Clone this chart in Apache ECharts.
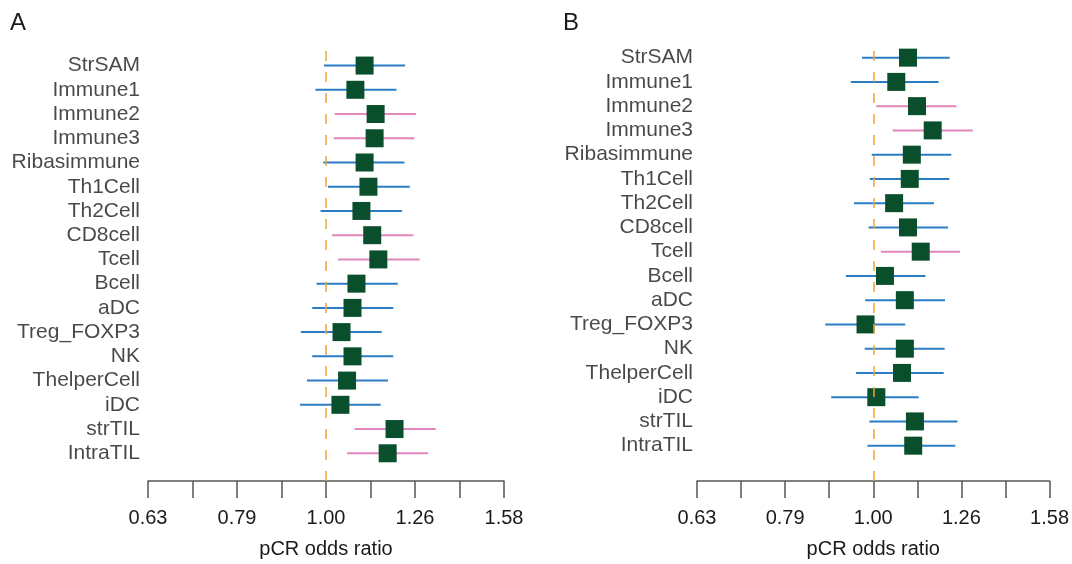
<!DOCTYPE html>
<html>
<head>
<meta charset="utf-8">
<script src="https://cdn.jsdelivr.net/npm/echarts@6/dist/echarts.min.js"></script>
<style>
  html, body { margin: 0; padding: 0; background: #fff; }
  #main { width: 1072px; height: 564px; }
</style>
</head>
<body>
<div id="main"></div>
<script>
// 行名称（两幅图相同）
const rows = ['StrSAM', 'Immune1', 'Immune2', 'Immune3', 'Ribasimmune', 'Th1Cell', 'Th2Cell',
  'CD8cell', 'Tcell', 'Bcell', 'aDC', 'Treg_FOXP3', 'NK', 'ThelperCell', 'iDC', 'strTIL', 'IntraTIL']

// A 图：OR 及 95% CI
const estA = [1.105, 1.079, 1.137, 1.134, 1.105, 1.116, 1.096, 1.127, 1.145, 1.082, 1.071, 1.041, 1.071, 1.056, 1.038, 1.194, 1.173]
const lowA = [0.995, 0.973, 1.023, 1.020, 0.993, 1.005, 0.986, 1.016, 1.032, 0.976, 0.965, 0.937, 0.965, 0.952, 0.935, 1.077, 1.056]
const upA = [1.227, 1.200, 1.262, 1.257, 1.225, 1.242, 1.217, 1.254, 1.274, 1.204, 1.190, 1.155, 1.190, 1.174, 1.152, 1.328, 1.303]
const sigA = [0, 0, 1, 1, 0, 0, 0, 1, 1, 0, 0, 0, 0, 0, 0, 1, 1]

// B 图
const estB = [1.095, 1.062, 1.121, 1.168, 1.106, 1.100, 1.056, 1.095, 1.132, 1.031, 1.086, 0.980, 1.086, 1.078, 1.008, 1.115, 1.110]
const lowB = [0.971, 0.943, 1.008, 1.052, 0.996, 0.991, 0.951, 0.988, 1.020, 0.931, 0.979, 0.882, 0.978, 0.956, 0.896, 0.990, 0.985]
const upB = [1.221, 1.186, 1.243, 1.297, 1.226, 1.220, 1.172, 1.216, 1.254, 1.146, 1.206, 1.087, 1.205, 1.202, 1.126, 1.246, 1.239]
const sigB = [0, 0, 1, 1, 0, 0, 0, 0, 1, 0, 0, 0, 0, 0, 0, 0, 0]

// x 轴刻度标签（log10 刻度 -0.2 ~ 0.2）
const tickLabels = ['0.63', '0.79', '1.00', '1.26', '1.58']

const BLUE = '#2a7cc4'
const PINK = '#e386bd'
const GREEN = '#0a4f2b'
const ORANGE = '#f3a23a'
const TEXT = '#1a1a1a'
const FONT = '"Liberation Sans", Arial, Helvetica, sans-serif'

function renderForest(params, api) {
  const y = api.value(0)
  const p = api.coord([api.value(1), y])
  const lo = api.coord([api.value(2), y])
  const hi = api.coord([api.value(3), y])
  const color = api.value(4) ? PINK : BLUE
  return {
    type: 'group',
    children: [
      {
        type: 'line',
        shape: { x1: lo[0], y1: lo[1], x2: hi[0], y2: hi[1] },
        style: { stroke: color, lineWidth: 2 }
      },
      {
        type: 'rect',
        shape: { x: p[0] - 9, y: p[1] - 9, width: 18, height: 18 },
        style: { fill: GREEN }
      }
    ]
  }
}

function makeXAxis(gridIndex) {
  return {
    gridIndex,
    type: 'value',
    min: -0.2,
    max: 0.2,
    interval: 0.05,
    name: 'pCR odds ratio',
    nameLocation: 'middle',
    nameGap: 58,
    nameTextStyle: { fontSize: 20, color: TEXT, fontFamily: FONT },
    axisLine: { onZero: false, lineStyle: { color: '#555', width: 1.5 } },
    axisTick: { length: 17, lineStyle: { color: '#555', width: 1.5 } },
    splitLine: { show: false },
    axisLabel: {
      margin: 27,
      fontSize: 20,
      color: TEXT,
      fontFamily: FONT,
      formatter: (value, index) => index % 2 === 0 ? tickLabels[index / 2] : ''
    }
  }
}

function makeYAxis(gridIndex, min, max) {
  return {
    gridIndex,
    type: 'value',
    inverse: true,
    min,
    max,
    show: false
  }
}

function makeSeries(idx, est, low, up, sig, labelGap) {
  return [
    {
      type: 'scatter',
      xAxisIndex: idx,
      yAxisIndex: idx,
      symbolSize: 0,
      clip: false,
      silent: true,
      data: rows.map((name, i) => ({ name, value: [-0.2, i] })),
      label: {
        show: true,
        position: 'left',
        distance: labelGap,
        formatter: '{b}',
        fontSize: 21,
        color: TEXT,
        fontFamily: FONT
      },
      markLine: {
        silent: true,
        symbol: 'none',
        label: { show: false },
        lineStyle: { color: ORANGE, width: 1.5, type: [10, 11] },
        data: [{ xAxis: 0 }]
      }
    },
    {
      type: 'custom',
      xAxisIndex: idx,
      yAxisIndex: idx,
      renderItem: renderForest,
      encode: { x: [1, 2, 3], y: 0 },
      data: rows.map((_, i) => [i, Math.log10(est[i]), Math.log10(low[i]), Math.log10(up[i]), sig[i]])
    }
  ]
}

const chart = echarts.init(document.getElementById('main'), null, { width: 1072, height: 564 })

chart.setOption({
  animation: false,
  title: [
    { text: 'A', left: 10, top: 11, padding: 0, textStyle: { fontSize: 24, fontWeight: 'normal', color: TEXT, fontFamily: FONT } },
    { text: 'B', left: 563, top: 11, padding: 0, textStyle: { fontSize: 24, fontWeight: 'normal', color: TEXT, fontFamily: FONT } }
  ],
  grid: [
    { left: 148, width: 356, top: 51, height: 433.7 },
    { left: 697, width: 356.7, top: 51, height: 433.7 }
  ],
  xAxis: [makeXAxis(0), makeXAxis(1)],
  yAxis: [makeYAxis(0, -0.601, 17.144), makeYAxis(1, -0.274, 17.457)],
  series: [
    ...makeSeries(0, estA, lowA, upA, sigA, 8),
    ...makeSeries(1, estB, lowB, upB, sigB, 4)
  ]
})
</script>
</body>
</html>
